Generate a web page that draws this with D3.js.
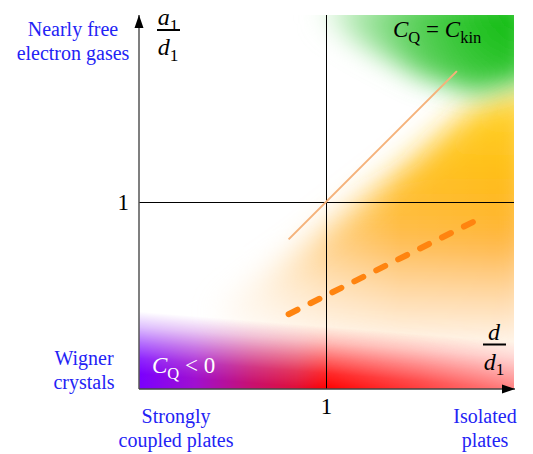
<!DOCTYPE html>
<html>
<head>
<meta charset="utf-8">
<script src="https://cdn.jsdelivr.net/npm/d3@7"></script>
<style>
  body { margin: 0; background: #fff; }
  text { font-family: "Liberation Serif", serif; }
</style>
</head>
<body>
<div id="chart"></div>
<script>
// ticks on both axes (d/d1 and a1/d1)
const tickValues = [1];
const tickLabels = ["1"];

// guide lines in (d/d1, a1/d1)
const solidLine = [[0.8, 0.8], [1.7, 1.7]];
const dashedLine = [[0.8, 0.4], [1.8, 0.9]];

// shaded regimes, same coordinates
const greenRegion = [[0.98, 2.1], [2.1, 2.1], [2.1, 1.66], [1.8, 1.58], [1.5, 1.67], [1.2, 1.83], [0.98, 1.96]];
const orangeRegion = [[0.35, 0.42], [0.49, 0.5], [0.83, 0.73], [1.42, 1.19], [1.77, 1.5], [2.1, 1.63], [2.1, 0.2], [1.3, 0.22], [0.55, 0.28]];
const purpleRegion = [[-0.05, 0.45], [2.1, 0.3], [2.1, -0.05], [-0.05, -0.05]];

// text
const cornerLabels = [
  ["Nearly free", "electron gases"],
  ["Wigner", "crystals"],
  ["Strongly", "coupled plates"],
  ["Isolated", "plates"]
];
const kinLabel = [{ t: "C", it: true }, { t: "Q", sub: true }, { t: " = " }, { t: "C", it: true }, { t: "kin", sub: true }];
const negLabel = [{ t: "C", it: true }, { t: "Q", sub: true }, { t: " < 0" }];
const yTitle = [[{ t: "a", it: true }, { t: "1", sub: true }], [{ t: "d", it: true }, { t: "1", sub: true }]];
const xTitle = [[{ t: "d", it: true }], [{ t: "d", it: true }, { t: "1", sub: true }]];

const width = 533, height = 454;
const pLeft = 139, pRight = 514, pTop = 15, pBottom = 389;

const x = d3.scaleLinear().domain([0, 2]).range([pLeft, 513]);
const y = d3.scaleLinear().domain([0, 2]).range([pBottom, pTop]);

const svg = d3.select("#chart").append("svg")
  .attr("width", width)
  .attr("height", height);

const defs = svg.append("defs");

defs.append("clipPath").attr("id", "plot")
  .append("rect")
  .attr("x", pLeft).attr("y", pTop)
  .attr("width", pRight - pLeft).attr("height", pBottom - pTop);

function blur(id, s) {
  defs.append("filter").attr("id", id)
    .attr("filterUnits", "userSpaceOnUse")
    .attr("x", 0).attr("y", 0).attr("width", width).attr("height", height)
    .append("feGaussianBlur").attr("stdDeviation", s);
}
blur("blurG", 13);
blur("blurO", 15);

function stops(grad, list) {
  list.forEach(s => grad.append("stop")
    .attr("offset", s[0])
    .attr("stop-color", s[1])
    .attr("stop-opacity", s[2] === undefined ? 1 : s[2]));
}

// green: strongest in the top-right corner
const gGreen = defs.append("radialGradient").attr("id", "green")
  .attr("gradientUnits", "userSpaceOnUse")
  .attr("cx", pRight).attr("cy", pTop).attr("r", 215);
stops(gGreen, [[0, "#0cbb0c"], [0.25, "#30c530"], [0.5, "#62d262"], [0.75, "#a6e6a6", 0.85], [1, "#ffffff", 0]]);

// orange: yellow on top, orange in the middle, fading downward
const gOrange = defs.append("linearGradient").attr("id", "orange")
  .attr("gradientUnits", "userSpaceOnUse")
  .attr("x1", 0).attr("y1", 60).attr("x2", 0).attr("y2", 350);
stops(gOrange, [[0.03, "#ffe25a"], [0.21, "#ffcc20"], [0.41, "#ffbb15"], [0.62, "#ffb43a"], [0.79, "#ffd49a"], [0.98, "#fff4ea"]]);

const gOrangeMask = defs.append("linearGradient").attr("id", "orangeFade")
  .attr("gradientUnits", "userSpaceOnUse")
  .attr("x1", 180).attr("y1", 0).attr("x2", pRight).attr("y2", 0);
stops(gOrangeMask, [[0, "#000"], [0.24, "#505050"], [0.45, "#a8a8a8"], [0.66, "#e8e8e8"], [1, "#fff"]]);
defs.append("mask").attr("id", "maskO")
  .attr("maskUnits", "userSpaceOnUse")
  .attr("x", 0).attr("y", 0).attr("width", width).attr("height", height)
  .append("rect").attr("width", width).attr("height", height).attr("fill", "url(#orangeFade)");

// purple -> red along the bottom
const gPurple = defs.append("linearGradient").attr("id", "purple")
  .attr("gradientUnits", "userSpaceOnUse")
  .attr("x1", pLeft).attr("y1", 0).attr("x2", pRight).attr("y2", 0);
stops(gPurple, [[0, "#7a00ff"], [0.15, "#a010d0"], [0.3, "#c81070"], [0.42, "#e0103a"], [0.5, "#ff0000"], [0.75, "#ff3030"], [1, "#ff6a6a"]]);

const gPurpleMask = defs.append("linearGradient").attr("id", "purpleFade")
  .attr("gradientUnits", "userSpaceOnUse")
  .attr("x1", 326).attr("y1", pBottom).attr("x2", 331).attr("y2", 327);
stops(gPurpleMask, [[0, "#fff"], [0.25, "#d8d8d8"], [0.5, "#909090"], [0.75, "#404040"], [1, "#000"]]);
defs.append("mask").attr("id", "maskP")
  .attr("maskUnits", "userSpaceOnUse")
  .attr("x", 0).attr("y", 0).attr("width", width).attr("height", height)
  .append("rect").attr("width", width).attr("height", height).attr("fill", "url(#purpleFade)");

const area = d3.line().x(d => x(d[0])).y(d => y(d[1])).curve(d3.curveLinearClosed);
const line = d3.line().x(d => x(d[0])).y(d => y(d[1]));

const plot = svg.append("g").attr("clip-path", "url(#plot)");

plot.append("g").attr("mask", "url(#maskO)")
  .append("path")
  .attr("d", area(orangeRegion))
  .attr("fill", "url(#orange)")
  .attr("filter", "url(#blurO)");

plot.append("path")
  .attr("d", area(greenRegion))
  .attr("fill", "url(#green)")
  .attr("filter", "url(#blurG)");

plot.append("g").attr("mask", "url(#maskP)")
  .append("path")
  .attr("d", area(purpleRegion))
  .attr("fill", "url(#purple)");

// gridlines at 1 with tick labels
svg.append("g")
  .attr("transform", `translate(0,${pBottom})`)
  .call(d3.axisBottom(x).tickValues(tickValues).tickFormat((d, i) => tickLabels[i])
    .tickSize(-(pBottom - pTop)).tickPadding(9))
  .call(g => g.select(".domain").remove())
  .call(g => g.selectAll("line").attr("stroke", "#000"))
  .call(g => g.selectAll("text").attr("font-size", 23).attr("font-family", "Liberation Serif").attr("fill", "#000"));

svg.append("g")
  .attr("transform", `translate(${pLeft},0)`)
  .call(d3.axisLeft(y).tickValues(tickValues).tickFormat((d, i) => tickLabels[i])
    .tickSize(-(pRight - pLeft)).tickPadding(10))
  .call(g => g.select(".domain").remove())
  .call(g => g.selectAll("line").attr("stroke", "#000"))
  .call(g => g.selectAll("text").attr("font-size", 23).attr("font-family", "Liberation Serif").attr("fill", "#000"));

// guide lines
svg.append("path")
  .attr("d", line(solidLine))
  .attr("fill", "none")
  .attr("stroke", "#f5b27a")
  .attr("stroke-width", 2);

svg.append("path")
  .attr("d", line(dashedLine))
  .attr("fill", "none")
  .attr("stroke", "#ff8410")
  .attr("stroke-width", 6)
  .attr("stroke-linecap", "round")
  .attr("stroke-dasharray", "10 14.5");

// axes with arrow heads
defs.append("marker").attr("id", "arrow")
  .attr("markerUnits", "userSpaceOnUse")
  .attr("markerWidth", 14).attr("markerHeight", 10)
  .attr("viewBox", "0 -5 14 10")
  .attr("refX", 13).attr("refY", 0)
  .attr("orient", "auto")
  .append("path").attr("d", "M0,-4.5L13,0L0,4.5Z").attr("fill", "#000");

svg.append("line")
  .attr("x1", pLeft).attr("y1", pBottom).attr("x2", pLeft).attr("y2", pTop)
  .attr("stroke", "#555").attr("stroke-width", 1.5).attr("marker-end", "url(#arrow)");
svg.append("line")
  .attr("x1", pLeft).attr("y1", pBottom).attr("x2", pRight + 1).attr("y2", pBottom)
  .attr("stroke", "#444").attr("stroke-width", 1.5).attr("marker-end", "url(#arrow)");

// math labels
function mathText(parts, px, py, size, anchor, fill) {
  const t = svg.append("text")
    .attr("x", px).attr("y", py)
    .attr("font-size", size)
    .attr("text-anchor", anchor)
    .attr("fill", fill);
  let shifted = 0;
  parts.forEach(p => {
    const target = p.sub ? size * 0.24 : 0;
    t.append("tspan").text(p.t)
      .attr("font-style", p.it ? "italic" : "normal")
      .attr("font-size", p.sub ? size * 0.72 : size)
      .attr("dy", target - shifted);
    shifted = target;
  });
  return t;
}

function fraction(parts, cx, barY, x0, x1, size) {
  mathText(parts[0], cx, barY - 5, size, "middle", "#000");
  svg.append("line")
    .attr("x1", x0).attr("x2", x1)
    .attr("y1", barY).attr("y2", barY)
    .attr("stroke", "#000").attr("stroke-width", 2);
  mathText(parts[1], cx, barY + 25, size, "middle", "#000");
}

fraction(yTitle, 168, 30, 157, 180, 24);
fraction(xTitle, 494, 344.5, 483, 506, 24);

mathText(kinLabel, 393, 37, 23, "start", "#000");
mathText(negLabel, 152, 373, 23, "start", "#fff");

// corner captions
const captionPos = [[73, 36], [84, 365], [176, 423], [485, 423]];
cornerLabels.forEach((lines, i) => {
  const t = svg.append("text")
    .attr("x", captionPos[i][0]).attr("y", captionPos[i][1])
    .attr("text-anchor", "middle")
    .attr("font-size", 20)
    .attr("fill", "#2323f5");
  lines.forEach((s, j) => t.append("tspan")
    .attr("x", captionPos[i][0])
    .attr("dy", j === 0 ? 0 : 23.5)
    .text(s));
});
</script>
</body>
</html>
